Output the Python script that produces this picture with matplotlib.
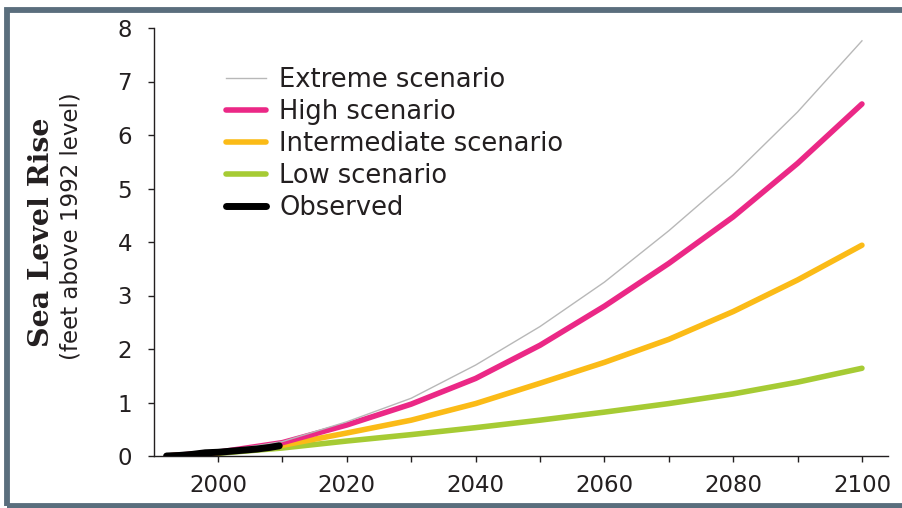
import matplotlib
matplotlib.use("Agg")
import matplotlib.pyplot as plt
from matplotlib.patches import Rectangle

# values (feet above 1992 level)
years = [1992, 2000, 2010, 2020, 2030, 2040, 2050, 2060, 2070, 2080, 2090, 2100]
extreme = [0.0, 0.08, 0.27, 0.64, 1.08, 1.70, 2.42, 3.25, 4.21, 5.25, 6.43, 7.76]
high = [0.0, 0.07, 0.25, 0.58, 0.97, 1.45, 2.07, 2.80, 3.60, 4.47, 5.47, 6.58]
intermediate = [0.0, 0.06, 0.20, 0.43, 0.67, 0.98, 1.36, 1.75, 2.18, 2.70, 3.29, 3.94]
low = [0.0, 0.05, 0.15, 0.28, 0.40, 0.53, 0.67, 0.82, 0.98, 1.16, 1.38, 1.64]

obs_years = [1992, 1994, 1996, 1998, 2000, 2002, 2004, 2006, 2008, 2009.5]
observed = [0.0, 0.01, 0.03, 0.06, 0.07, 0.09, 0.11, 0.13, 0.16, 0.19]

xticks_major = [2000, 2020, 2040, 2060, 2080, 2100]
xticks_minor = [2010, 2030, 2050, 2070, 2090]
yticks = [0, 1, 2, 3, 4, 5, 6, 7, 8]

txt = "#231f20"

fig = plt.figure(figsize=(9.03, 5.08), dpi=100)
ax = fig.add_axes([153.7 / 903, 52 / 508, 734 / 903, 428 / 508])

ax.plot(years, low, color="#a6cb34", lw=4, solid_capstyle="round", label="Low scenario", zorder=2)
ax.plot(years, intermediate, color="#fbbb17", lw=4, solid_capstyle="round", label="Intermediate scenario", zorder=3)
ax.plot(years, high, color="#eb2886", lw=4, solid_capstyle="round", label="High scenario", zorder=4)
ax.plot(years, extreme, color="#b8b8b8", lw=1, label="Extreme scenario", zorder=5)
ax.plot(obs_years, observed, color="black", lw=5, solid_capstyle="round", label="Observed", zorder=6)

ax.set_xlim(1990, 2104)
ax.set_ylim(0, 8)
ax.set_xticks(xticks_major)
ax.set_xticks(xticks_minor, minor=True)
ax.set_yticks(yticks)

for s in ["top", "right"]:
    ax.spines[s].set_visible(False)
for s in ["left", "bottom"]:
    ax.spines[s].set_linewidth(1.0)
    ax.spines[s].set_color(txt)

ax.tick_params(axis="y", direction="out", length=4.5, width=1, pad=11,
               labelsize=16.5, colors=txt)
ax.tick_params(axis="x", which="both", direction="out", length=4, width=1, pad=9,
               labelsize=16.5, colors=txt)

# legend in the reference order
h, l = ax.get_legend_handles_labels()
order = [3, 2, 1, 0, 4]
leg = ax.legend([h[i] for i in order], [l[i] for i in order],
                loc="upper left", bbox_to_anchor=(0.099, 0.909),
                frameon=False, fontsize=18.5, handlelength=1.55,
                handletextpad=0.5, labelspacing=0.23, borderpad=0, borderaxespad=0)
for t in leg.get_texts():
    t.set_color(txt)

fig.text(42 / 903, 1 - 232 / 508, "Sea Level Rise", rotation=90, ha="center", va="center",
         family="DejaVu Serif", fontweight="bold", fontsize=20.5, color=txt)
fig.text(71 / 903, 1 - 226 / 508, "(feet above 1992 level)", rotation=90, ha="center",
         va="center", fontsize=16.5, color=txt)

# frame around the chart, open on the right edge
fig.patches.append(Rectangle((7 / 903, 2.5 / 508), 920 / 903, 496 / 508,
                             transform=fig.transFigure, fill=False,
                             edgecolor="#5a6e7d", lw=4.2, zorder=10))

fig.savefig("out.png", dpi=100)
